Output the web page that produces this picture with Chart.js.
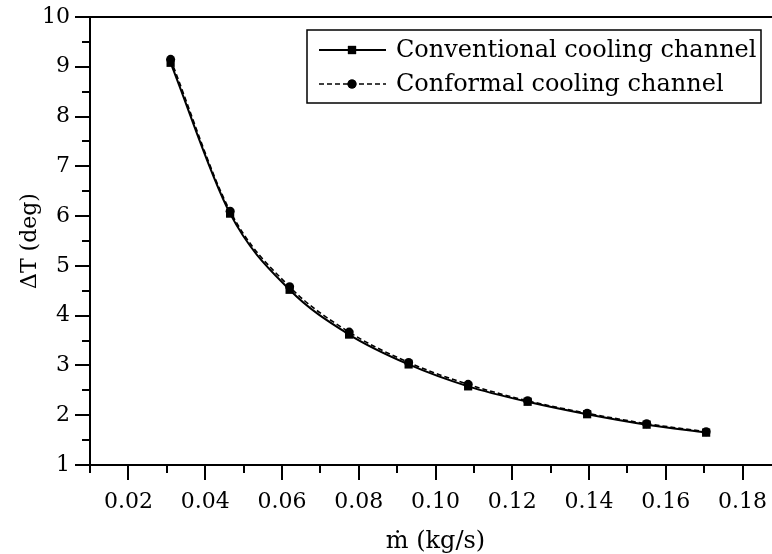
<!DOCTYPE html>
<html>
<head>
<meta charset="utf-8">
<script src="https://cdn.jsdelivr.net/npm/chart.js@4.4.1/dist/chart.umd.min.js"></script>
<style>
  html, body { margin: 0; padding: 0; background: #fff; overflow: hidden; }
  #wrap { width: 800px; height: 554px; }
</style>
</head>
<body>
<div id="wrap"><canvas id="dtChart" width="800" height="554"></canvas></div>
<script>
  // mass flow rate (kg/s)
  const massFlow = [0.031, 0.0465, 0.062, 0.0775, 0.093, 0.1085, 0.124, 0.1395, 0.155, 0.1705];
  // temperature difference (deg)
  const dtConventional = [9.08, 6.05, 4.52, 3.62, 3.02, 2.58, 2.27, 2.02, 1.81, 1.65];
  const dtConformal = [9.15, 6.10, 4.58, 3.67, 3.06, 2.62, 2.29, 2.04, 1.83, 1.67];

  const seriesNames = ['Conventional cooling channel', 'Conformal cooling channel'];
  const xMajorTicks = [0.02, 0.04, 0.06, 0.08, 0.10, 0.12, 0.14, 0.16, 0.18];
  const yMajorTicks = [1, 2, 3, 4, 5, 6, 7, 8, 9, 10];

  const FONT = '"DejaVu Serif", "Liberation Serif", serif';

  function toPoints(xs, ys) {
    return xs.map((x, i) => ({ x: x, y: ys[i] }));
  }

  function isMajor(list, v) {
    return list.some(t => Math.abs(t - v) < 1e-6);
  }

  // Origin-style frame: outward major/minor ticks plus closed box
  const framePlugin = {
    id: 'frame',
    afterDraw(chart) {
      const ctx = chart.ctx;
      const area = chart.chartArea;
      const xs = chart.scales.x;
      const ys = chart.scales.y;
      ctx.save();
      ctx.strokeStyle = '#000';
      ctx.lineWidth = 2;
      ctx.beginPath();
      ctx.moveTo(area.left, area.top);
      ctx.lineTo(area.right, area.top);
      ctx.lineTo(area.right, area.bottom);
      ctx.stroke();

      ctx.beginPath();
      xs.ticks.forEach(t => {
        const px = Math.round(xs.getPixelForValue(t.value));
        const len = isMajor(xMajorTicks, t.value) ? 15 : 8;
        ctx.moveTo(px, area.bottom);
        ctx.lineTo(px, area.bottom + len);
      });
      ys.ticks.forEach(t => {
        const py = Math.round(ys.getPixelForValue(t.value));
        const len = isMajor(yMajorTicks, t.value) ? 15 : 8;
        ctx.moveTo(area.left, py);
        ctx.lineTo(area.left - len, py);
      });
      ctx.stroke();
      ctx.restore();
    }
  };

  // boxed legend in the upper right corner of the plot
  const boxLegendPlugin = {
    id: 'boxLegend',
    afterDraw(chart) {
      const ctx = chart.ctx;
      const box = { left: 307, top: 30, right: 761, bottom: 103 };
      const rows = [50, 84];
      ctx.save();
      ctx.strokeStyle = '#000';
      ctx.lineWidth = 1.5;
      ctx.strokeRect(box.left, box.top, box.right - box.left, box.bottom - box.top);

      chart.data.datasets.forEach((ds, i) => {
        const y = rows[i];
        ctx.strokeStyle = ds.borderColor;
        ctx.lineWidth = ds.borderWidth;
        ctx.setLineDash(ds.borderDash || []);
        ctx.beginPath();
        ctx.moveTo(319, y);
        ctx.lineTo(386, y);
        ctx.stroke();
        ctx.setLineDash([]);
        Chart.helpers.drawPoint(ctx, {
          pointStyle: ds.pointStyle,
          radius: ds.pointRadius,
          borderWidth: 0
        }, 352, y);
        ctx.fillStyle = '#000';
        ctx.fill();
        ctx.font = '24px ' + FONT;
        ctx.textBaseline = 'middle';
        ctx.textAlign = 'left';
        ctx.fillText(ds.label, 396, y + 1);
      });
      ctx.restore();
    }
  };

  const ctx = document.getElementById('dtChart').getContext('2d');
  new Chart(ctx, {
    type: 'line',
    data: {
      datasets: [
        {
          label: seriesNames[0],
          data: toPoints(massFlow, dtConventional),
          borderColor: '#000',
          backgroundColor: '#000',
          borderWidth: 2,
          pointStyle: 'rect',
          pointRadius: 5.8,
          pointBorderWidth: 0,
          cubicInterpolationMode: 'monotone',
          order: 1
        },
        {
          label: seriesNames[1],
          data: toPoints(massFlow, dtConformal),
          borderColor: '#000',
          backgroundColor: '#000',
          borderWidth: 1.6,
          borderDash: [5, 3],
          pointStyle: 'circle',
          pointRadius: 4.5,
          pointBorderWidth: 0,
          cubicInterpolationMode: 'monotone',
          order: 2
        }
      ]
    },
    options: {
      responsive: false,
      animation: false,
      layout: { padding: { top: 17, right: 19, left: 0, bottom: 0 } },
      plugins: {
        legend: { display: false },
        tooltip: { enabled: false }
      },
      scales: {
        x: {
          type: 'linear',
          min: 0.01,
          max: 0.19,
          afterFit(scale) {
            scale.height = 89;
            scale.paddingLeft = 0;
            scale.paddingRight = 0;
          },
          afterBuildTicks(scale) {
            const ticks = [];
            for (let i = 1; i <= 19; i++) ticks.push({ value: i / 100 });
            scale.ticks = ticks;
          },
          grid: { display: false, drawTicks: false },
          border: { display: true, color: '#000', width: 2 },
          ticks: {
            padding: 24,
            color: '#000',
            font: { family: FONT, size: 22 },
            maxRotation: 0,
            autoSkip: false,
            callback: v => isMajor(xMajorTicks, v) ? v.toFixed(2) : ''
          },
          title: {
            display: true,
            text: 'ṁ (kg/s)',
            color: '#000',
            font: { family: FONT, size: 24, lineHeight: 1 },
            padding: { top: 0, bottom: 0 }
          }
        },
        y: {
          min: 1,
          max: 10,
          afterFit(scale) {
            scale.width = 90;
            scale.paddingTop = 0;
            scale.paddingBottom = 0;
          },
          afterBuildTicks(scale) {
            const ticks = [];
            for (let i = 2; i <= 20; i++) ticks.push({ value: i / 2 });
            scale.ticks = ticks;
          },
          grid: { display: false, drawTicks: false },
          border: { display: true, color: '#000', width: 2 },
          ticks: {
            padding: 20,
            color: '#000',
            font: { family: FONT, size: 22 },
            autoSkip: false,
            callback: v => isMajor(yMajorTicks, v) ? String(v) : ''
          },
          title: {
            display: true,
            text: 'ΔT (deg)',
            color: '#000',
            font: { family: FONT, size: 22 },
            padding: { top: 17, bottom: 0 }
          }
        }
      }
    },
    plugins: [framePlugin, boxLegendPlugin]
  });
</script>
</body>
</html>
